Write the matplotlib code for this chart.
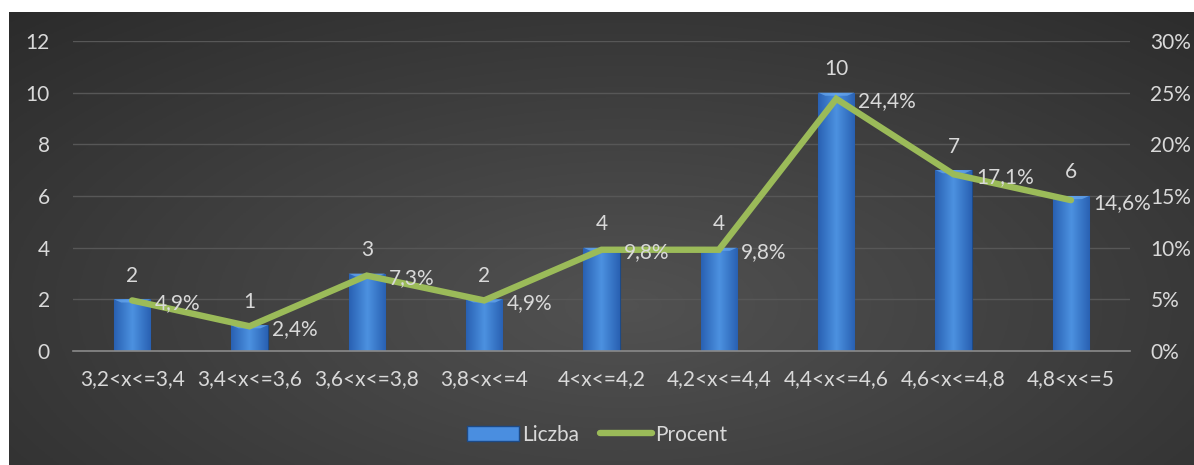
import numpy as np
from matplotlib import pyplot as plt
from matplotlib.ticker import FuncFormatter, MultipleLocator
from matplotlib.patches import Rectangle
from matplotlib.lines import Line2D

categories = ['3,2<x<=3,4', '3,4<x<=3,6', '3,6<x<=3,8', '3,8<x<=4', '4<x<=4,2',
              '4,2<x<=4,4', '4,4<x<=4,6', '4,6<x<=4,8', '4,8<x<=5']
counts = [2, 1, 3, 2, 4, 4, 10, 7, 6]
percents = [4.9, 2.4, 7.3, 4.9, 9.8, 9.8, 24.4, 17.1, 14.6]

plt.rcParams['font.family'] = ['Lato', 'DejaVu Sans']
text_color = '#d9d9d9'
fs = 15

fig = plt.figure(figsize=(11.94, 4.65), dpi=100)

# dark radial background of the chart area
bg = fig.add_axes([9 / 1194, 0, 1 - 9 / 1194, 453 / 465])
bg.set_axis_off()
gx, gy = np.meshgrid(np.linspace(0, 1, 400), np.linspace(0, 1, 200))
r = np.sqrt(((gx - 0.52) / 0.75) ** 2 + ((gy - 0.35) / 0.9) ** 2)
r = np.clip(r, 0, 1)
shade = 0.32 - 0.15 * r
img = np.dstack([shade, shade, shade])
bg.imshow(img, extent=[0, 1, 0, 1], origin='lower', aspect='auto')
bg.set_xlim(0, 1)
bg.set_ylim(0, 1)

ax = fig.add_axes([0.0615, 0.245, 0.8846, 0.667])
ax.patch.set_alpha(0)
x = np.arange(len(categories))
bars = ax.bar(x, counts, width=0.31, color='#3a78cc', edgecolor='#1d4a86',
              linewidth=0.8, zorder=2)

# horizontal shading inside each bar
grad = np.linspace(0, 1, 64)
prof = 1 - np.abs(grad - 0.5) * 2
cols = np.zeros((1, 64, 3))
cols[0, :, 0] = 0.16 + 0.14 * prof
cols[0, :, 1] = 0.38 + 0.19 * prof
cols[0, :, 2] = 0.70 + 0.18 * prof
for b in bars:
    x0, w, h = b.get_x(), b.get_width(), b.get_height()
    im = ax.imshow(cols, extent=[x0, x0 + w, 0, h], aspect='auto', zorder=2.1)
    im.set_clip_path(b)
    ax.fill([x0, x0 + w, x0 + w * 0.8, x0 + w * 0.2],
            [h, h, h - 0.12, h - 0.12], color='#6aaaf0', alpha=0.7, zorder=2.2, lw=0)

for xi, c in zip(x, counts):
    ax.annotate(str(c), (xi, c), xytext=(0, 17), textcoords='offset points',
                ha='center', va='center', color=text_color, fontsize=fs, zorder=5)

ax.set_xlim(-0.5, len(categories) - 0.5)
ax.set_ylim(0, 12)
ax.yaxis.set_major_locator(MultipleLocator(2))
ax.grid(axis='y', color='#575757', linewidth=1.0, zorder=0)
ax.set_axisbelow(True)
for s in ['top', 'right', 'left']:
    ax.spines[s].set_visible(False)
ax.spines['bottom'].set_color('#8a8a8a')
ax.spines['bottom'].set_linewidth(1.2)
ax.spines['bottom'].set_zorder(3)
ax.set_xticks(x)
ax.set_xticklabels(categories)
ax.tick_params(axis='both', length=0, colors=text_color, labelsize=fs)
ax.tick_params(axis='x', pad=13)
ax.tick_params(axis='y', pad=17)

ax2 = ax.twinx()
ax2.set_ylim(0, 30)
ax2.yaxis.set_major_locator(MultipleLocator(5))
ax2.yaxis.set_major_formatter(FuncFormatter(lambda v, p: f'{v:.0f}%'))
for s in ax2.spines.values():
    s.set_visible(False)
ax2.tick_params(axis='y', length=0, colors=text_color, labelsize=fs, pad=15)
ax2.plot(x, percents, color='#9bbb59', linewidth=4.6, solid_capstyle='round',
         solid_joinstyle='miter', zorder=4)
for xi, p in zip(x, percents):
    ax2.annotate(f'{p:.1f}%'.replace('.', ','), (xi, p), xytext=(16, -2),
                 textcoords='offset points', ha='left', va='center',
                 color=text_color, fontsize=fs, zorder=5)

handles = [Rectangle((0, 0), 1, 1, facecolor='#4a8ee0', edgecolor='#1d4a86'),
           Line2D([0], [0], color='#9bbb59', linewidth=4.6, solid_capstyle='round')]
fig.legend(handles, ['Liczba', 'Procent'], loc='center', bbox_to_anchor=(0.5, 0.065),
           ncol=2, frameon=False, fontsize=fs, labelcolor=text_color,
           handlelength=2.5, handletextpad=0.15, columnspacing=1.0)

fig.savefig('out.png', dpi=100, facecolor='white')
